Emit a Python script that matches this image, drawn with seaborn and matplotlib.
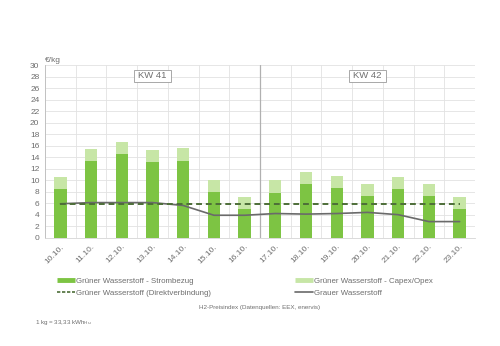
import matplotlib
matplotlib.use("Agg")
import matplotlib.pyplot as plt
import seaborn as sns
import pandas as pd
from matplotlib.lines import Line2D
from matplotlib.patches import Rectangle

dates = ["10.10.", "11.10.", "12.10.", "13.10.", "14.10.", "15.10.", "16.10.",
         "17.10.", "18.10.", "19.10.", "20.10.", "21.10.", "22.10.", "23.10."]
strombezug = [8.4, 13.3, 14.5, 13.2, 13.4, 8.0, 5.0, 7.8, 9.4, 8.7, 7.3, 8.4, 7.3, 5.0]
capex_opex = [2.1, 2.1, 2.1, 2.0, 2.1, 2.1, 2.1, 2.2, 2.1, 2.1, 2.0, 2.1, 2.0, 2.1]
direkt = [5.85] * 14
grau = [5.9, 6.1, 6.1, 6.1, 5.6, 3.9, 3.9, 4.2, 4.1, 4.2, 4.4, 4.0, 2.8, 2.8]

week_labels = ["KW 41", "KW 42"]
week_pos = [3, 10]

df = pd.DataFrame({"date": dates, "strom": strombezug, "capex": capex_opex,
                   "direkt": direkt, "grau": grau})
df["total"] = df["strom"] + df["capex"]

sns.set_style("white")
plt.rcParams["font.family"] = ["Liberation Sans", "DejaVu Sans"]
txt = "#6e6e6e"
dark = "#7dc443"
light = "#c7e6a6"
dash_c = "#4d6e38"
grey_c = "#6a6a6a"

fig = plt.figure(figsize=(5, 3.46), dpi=100)
ax = fig.add_axes([0.09, 0.313, 0.86, 0.499])

sns.barplot(data=df, x="date", y="total", color=light, width=0.4, ax=ax,
            saturation=1, zorder=3, edgecolor="none")
sns.barplot(data=df, x="date", y="strom", color=dark, width=0.4, ax=ax,
            saturation=1, zorder=4, edgecolor="none")
sns.lineplot(data=df, x="date", y="direkt", color=dash_c, lw=1.4,
             linestyle=(0, (3, 2)), ax=ax, zorder=6)
sns.lineplot(data=df, x="date", y="grau", color=grey_c, lw=1.2, ax=ax, zorder=5)

ax.set_xlim(-0.5, 13.5)
ax.set_ylim(0, 30)
ax.set_yticks(range(0, 31, 2))
ax.set_xticks(range(len(dates)))
ax.set_xticklabels(dates, rotation=45, ha="right", rotation_mode="anchor")
ax.set_xlabel("")
ax.set_ylabel("")
ax.tick_params(axis="both", labelsize=6, colors=txt, length=2, width=0.5, pad=2)
ax.tick_params(axis="x", length=0, pad=4)
for t in ax.get_yticklabels() + ax.get_xticklabels():
    t.set_color(txt)

ax.set_xticks([i + 0.5 for i in range(-1, 14)], minor=True)
ax.grid(False)
ax.yaxis.grid(True, color="#e2e2e2", lw=0.6, zorder=0)
ax.xaxis.grid(True, which="minor", color="#e2e2e2", lw=0.6, zorder=0)
ax.tick_params(axis="x", which="minor", length=0)
for s in ["top", "right"]:
    ax.spines[s].set_visible(False)
ax.spines["left"].set_color("#bcbcbc")
ax.spines["left"].set_linewidth(0.6)
ax.spines["bottom"].set_color("#d5d5d5")
ax.spines["bottom"].set_linewidth(0.6)
ax.axvline(6.5, color="#b0b0b0", lw=0.9, zorder=2)

week_texts = []
for lab, p in zip(week_labels, week_pos):
    week_texts.append(ax.text(p, 28.1, lab, ha="center", va="center", fontsize=6.8,
                              color=txt, zorder=8))

ax.text(0.0, 1.005, "€/kg", transform=ax.transAxes, fontsize=6, color=txt,
        ha="left", va="bottom")

leg_kw = dict(loc="center left", frameon=False, fontsize=5.7, handlelength=2.3,
              handletextpad=0.15, labelspacing=0.55, borderaxespad=0, borderpad=0)
h1 = [Line2D([], [], color=dark, lw=3.5, solid_capstyle="butt"),
      Line2D([], [], color=dash_c, lw=1.2, linestyle=(0, (2, 1)))]
l1 = ["Grüner Wasserstoff - Strombezug", "Grüner Wasserstoff (Direktverbindung)"]
h2 = [Line2D([], [], color=light, lw=3.5, solid_capstyle="butt"),
      Line2D([], [], color=grey_c, lw=1.2)]
l2 = ["Grüner Wasserstoff - Capex/Opex", "Grauer Wasserstoff"]
leg1 = fig.legend(h1, l1, bbox_to_anchor=(0.114, 0.171), **leg_kw)
leg2 = fig.legend(h2, l2, bbox_to_anchor=(0.590, 0.171), **leg_kw)
for lg in (leg1, leg2):
    for t in lg.get_texts():
        t.set_color(txt)

fig.text(0.52, 0.11, "H2-Preisindex (Datenquellen: EEX, enervis)", fontsize=4.5,
         color=txt, ha="center", va="center")
fig.text(0.07, 0.067, "1 kg = 33,33 kWh$_{\\mathrm{Hu}}$", fontsize=4.5, color=txt,
         ha="left", va="center")

# boxes around week labels, sized from the rendered text
fig.canvas.draw()
renderer = fig.canvas.get_renderer()
for t in week_texts:
    bb = t.get_window_extent(renderer)
    padx, pady = 4.5, 1.5
    x0, y0 = bb.x0 - padx, bb.y0 - pady
    w, h = bb.width + 2 * padx, bb.height + 2 * pady
    inv = ax.transData.inverted()
    (dx0, dy0), (dx1, dy1) = inv.transform([(x0, y0), (x0 + w, y0 + h)])
    ax.add_patch(Rectangle((dx0, dy0), dx1 - dx0, dy1 - dy0, fc="white",
                           ec="#9a9a9a", lw=0.6, zorder=7))

fig.savefig("out.png", dpi=100)
